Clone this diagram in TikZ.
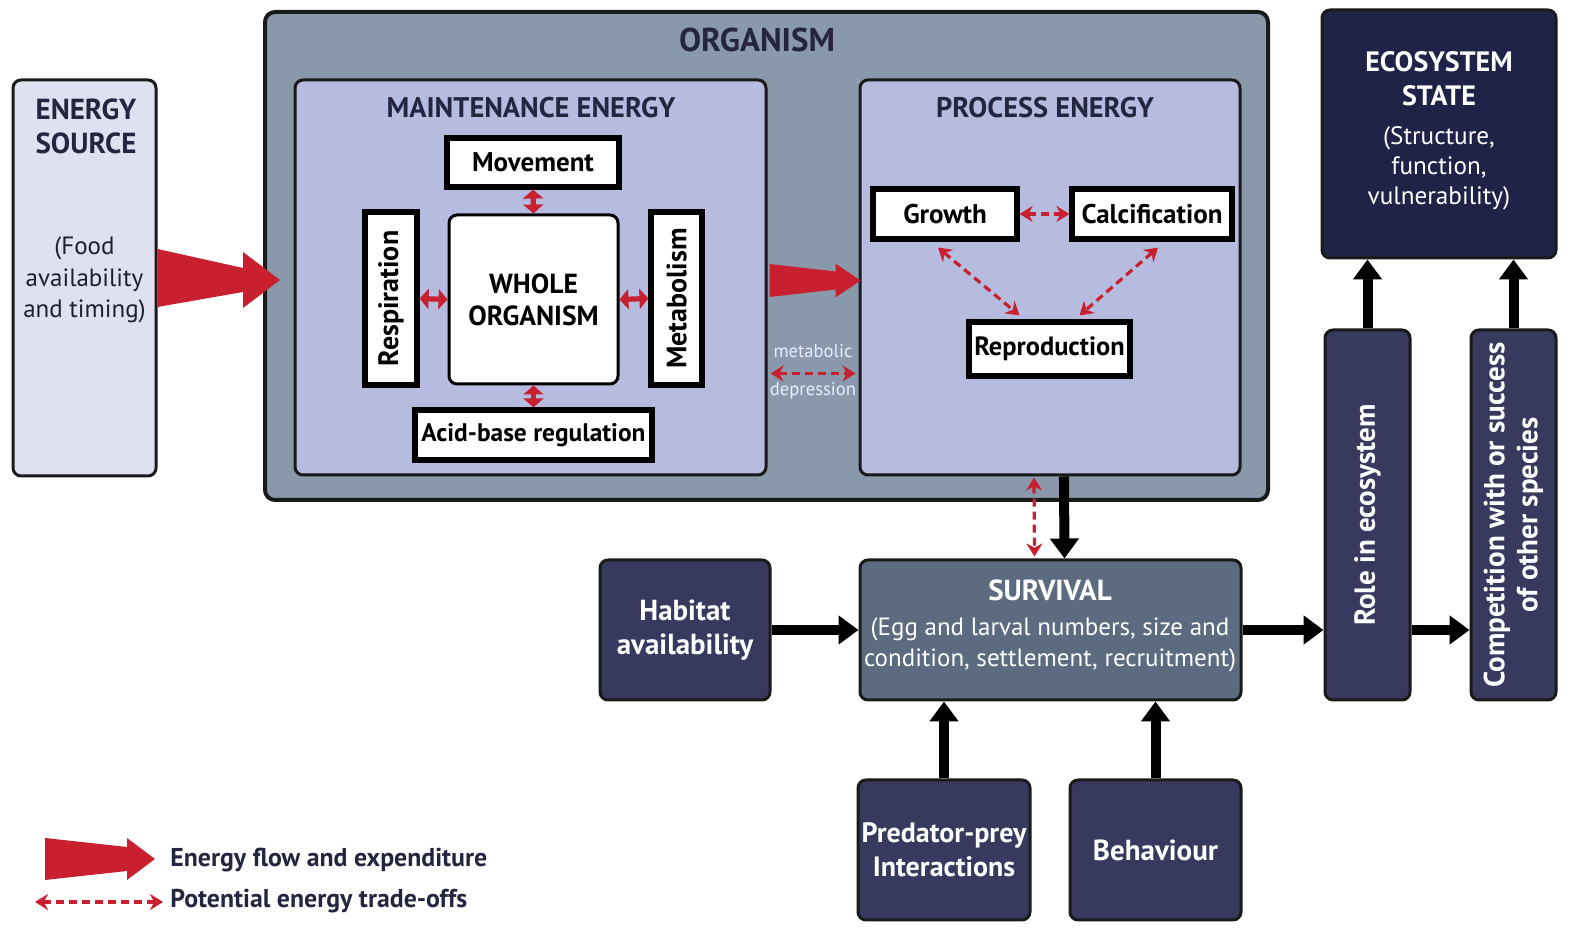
\documentclass[tikz,border=0pt]{standalone}
\usepackage{fontspec}
\setmainfont{PT Sans}
\usetikzlibrary{arrows.meta,calc}
\definecolor{myred}{HTML}{C8202E}
\definecolor{edge}{HTML}{1A1A1A}
\definecolor{orgfill}{HTML}{8A98AB}
\definecolor{lavfill}{HTML}{B5BCDF}
\definecolor{srcfill}{HTML}{DFE1F1}
\definecolor{survfill}{HTML}{5C6B80}
\definecolor{darkfill}{HTML}{373A5E}
\definecolor{ecofill}{HTML}{1F2347}
\definecolor{titlec}{HTML}{24263F}
\newcommand\fatarrow[6]{%
  \fill[myred] ($(#1)+(0,-#3)$) -- ($(#2)+(-#6,-#4)$) -- ($(#2)+(-#6,-#5)$) -- (#2)
     -- ($(#2)+(-#6,#5)$) -- ($(#2)+(-#6,#4)$) -- ($(#1)+(0,#3)$) -- cycle;}
\tikzset{
  box/.style={draw=edge, line width=1.5pt, rounded corners=4pt, inner sep=0pt},
  wbox/.style={draw=black, fill=white, line width=2.6pt, inner sep=0pt,
    font=\bfseries\fontsize{13.5}{15}\selectfont},
  darkbox/.style={box, fill=darkfill, text=white, align=center,
    font=\bfseries\fontsize{14.5}{17}\selectfont},
  lbl/.style={inner sep=0pt, align=center},
  blackarrow/.style={draw=black, line width=5pt, -{Triangle[length=10pt,width=14pt]}},
  reddash/.style={draw=myred, line width=1.6pt, dash pattern=on 4pt off 2.5pt,
    {Stealth[length=6.5pt,width=8pt]}-{Stealth[length=6.5pt,width=8pt]}},
  redsolid/.style={draw=myred, line width=2.6pt,
    {Triangle[length=4.5pt,width=10pt]}-{Triangle[length=4.5pt,width=10pt]}},
}
\begin{document}
\begin{tikzpicture}[x=0.5pt,y=-0.5pt]
\useasboundingbox[fill=white] (0,0) rectangle (1576,929);

% energy source
\node[box, fill=srcfill, minimum width=71.5pt, minimum height=198pt] (src) at (84.5,278) {};
\node[lbl, text=titlec, font=\bfseries\fontsize{14.5}{17}\selectfont] (srct) at (86,126) {ENERGY\\SOURCE};
\node[lbl, text=titlec!80!black, font=\fontsize{12.5}{15.7}\selectfont] (srcs) at (84.5,280) {(Food\\availability\\and timing)};

% organism
\node[draw=edge, line width=2pt, rounded corners=5pt, fill=orgfill, minimum width=501.5pt, minimum height=244pt] (org) at (766.5,256) {};
\node[lbl, text=titlec, font=\bfseries\fontsize{16.5}{18}\selectfont] (orgt) at (757,40) {ORGANISM};

\node[box, fill=lavfill, minimum width=235.5pt, minimum height=197.5pt] (maint) at (530.5,277.5) {};
\node[lbl, text=titlec, font=\bfseries\fontsize{14.2}{16}\selectfont] (maintt) at (531,108) {MAINTENANCE ENERGY};
\node[box, fill=lavfill, minimum width=190pt, minimum height=197.5pt] (proc) at (1050,277.5) {};
\node[lbl, text=titlec, font=\bfseries\fontsize{14.2}{16}\selectfont] (proct) at (1045,108) {PROCESS ENERGY};

% maintenance items
\node[wbox, minimum width=86pt, minimum height=24.5pt] (move) at (533,162.5) {Movement};
\node[wbox, line width=1.5pt, rounded corners=4pt, minimum width=84.5pt, minimum height=84.5pt, align=center,
  font=\bfseries\fontsize{13.8}{16}\selectfont] (whole) at (533.5,299.5) {WHOLE\\ORGANISM};
\node[wbox, rotate=90, minimum width=86.5pt, minimum height=26pt, font=\bfseries\fontsize{14}{15}\selectfont] (resp) at (391,298.5) {Respiration};
\node[wbox, rotate=90, minimum width=86.5pt, minimum height=25.5pt, font=\bfseries\fontsize{14}{15}\selectfont] (metab) at (676.5,298.5) {Metabolism};
\node[wbox, minimum width=118.5pt, minimum height=25pt, font=\bfseries\fontsize{12.7}{15}\selectfont] (acid) at (533.5,435) {Acid-base regulation};

\draw[redsolid] (whole.north) -- (move.south);
\draw[redsolid] (whole.south) -- (acid.north);
\draw[redsolid] (whole.west) -- (resp.south);
\draw[redsolid] (whole.east) -- (metab.north);

% process items
\node[wbox, minimum width=72pt, minimum height=25pt] (growth) at (945,214) {Growth};
\node[wbox, minimum width=80pt, minimum height=25pt] (calc) at (1152,214) {Calcification};
\node[wbox, minimum width=80.5pt, minimum height=27pt, font=\bfseries\fontsize{13.2}{15}\selectfont] (repro) at (1049.5,349) {Reproduction};

\draw[reddash] (growth.east) -- (calc.west);
\draw[reddash] ($(growth.south)+(-7,6)$) -- ($(repro.north)+(-30,-4)$);
\draw[reddash] ($(calc.south)+(6,6)$) -- ($(repro.north)+(30,-4)$);

% big red arrows
\coordinate (tip1) at ($(src.east -| org.west)+(17,2)$);
\fatarrow{src.east}{tip1}{29}{12}{28}{37}
\coordinate (tail2) at ($(maint.east)+(2,3)$);
\coordinate (tip2) at ($(proc.west)+(2,3)$);
\fatarrow{tail2}{tip2}{16.5}{9}{17}{25}

% metabolic depression
\draw[reddash] ($(maint.east)+(3,96)$) -- ($(proc.west)+(-3,96)$);
\node[lbl, text=white!92!blue, font=\fontsize{9.3}{10}\selectfont] (md1) at (813,351) {metabolic};
\node[lbl, text=white!92!blue, font=\fontsize{9.3}{10}\selectfont] (md2) at (813,391) {depression};

% survival
\node[box, fill=survfill, minimum width=190.5pt, minimum height=70pt] (surv) at (1050.5,630) {};
\node[lbl, text=white, font=\bfseries\fontsize{14.5}{16}\selectfont] (survt) at (1050,590) {SURVIVAL};
\node[lbl, text=white, font=\fontsize{12.5}{15.5}\selectfont] (survs) at (1050,645) {(Egg and larval numbers, size and\\condition, settlement, recruitment)};

\draw[reddash] ($(proc.south)+(-16,1)$) -- ($(surv.north)+(-16,-2)$);
\draw[blackarrow] ($(proc.south)+(14,0)$) -- ($(surv.north)+(14,0)$);

\node[darkbox, minimum width=85pt, minimum height=70pt] (hab) at (685,630) {Habitat\\availability};
\node[darkbox, minimum width=86pt, minimum height=70pt, font=\bfseries\fontsize{14}{17}\selectfont] (pred) at (944,850) {Predator-prey\\Interactions};
\node[darkbox, minimum width=85.5pt, minimum height=70pt] (behav) at (1155.5,850) {Behaviour};

\draw[blackarrow] (hab.east) -- (surv.west);
\draw[blackarrow] (pred.north) -- (pred.north |- surv.south);
\draw[blackarrow] (behav.north) -- (behav.north |- surv.south);

% ecosystem side
\node[box, fill=ecofill, minimum width=117pt, minimum height=124pt] (eco) at (1439,134) {};
\node[lbl, text=white, font=\bfseries\fontsize{14}{17}\selectfont] (ecot) at (1439,79) {ECOSYSTEM\\STATE};
\node[lbl, text=white, font=\fontsize{12.6}{15}\selectfont] (ecos) at (1439,168) {(Structure,\\function,\\vulnerability)};

\node[darkbox, rotate=90, minimum width=185pt, minimum height=42.5pt] (role) at (1367.5,515) {Role in ecosystem};
\node[darkbox, rotate=90, minimum width=185pt, minimum height=42.5pt,
  font=\bfseries\fontsize{14.5}{16.5}\selectfont] (comp) at (1513.5,515) {Competition with or success\\of other species};

\draw[blackarrow] (surv.east) -- (surv.east -| role.north);
\draw[blackarrow] (role.south |- surv.east) -- (comp.north |- surv.east);
\draw[blackarrow] (role.east) -- (role.east |- eco.south);
\draw[blackarrow] (comp.east) -- (comp.east |- eco.south);

% legend
\coordinate (legA) at (45,859);
\coordinate (legB) at (155,859);
\fatarrow{legA}{legB}{21}{12}{21}{28}
\coordinate (legC) at (35,902);
\coordinate (legD) at (163,902);
\draw[reddash] (legC) -- (legD);
\node[lbl, anchor=west, text=titlec, font=\bfseries\fontsize{12.9}{14}\selectfont] (leg1) at (170,860) {Energy flow and expenditure};
\node[lbl, anchor=west, text=titlec, font=\bfseries\fontsize{12.9}{14}\selectfont] (leg2) at (170,901) {Potential energy trade-offs};
\end{tikzpicture}
\end{document}
